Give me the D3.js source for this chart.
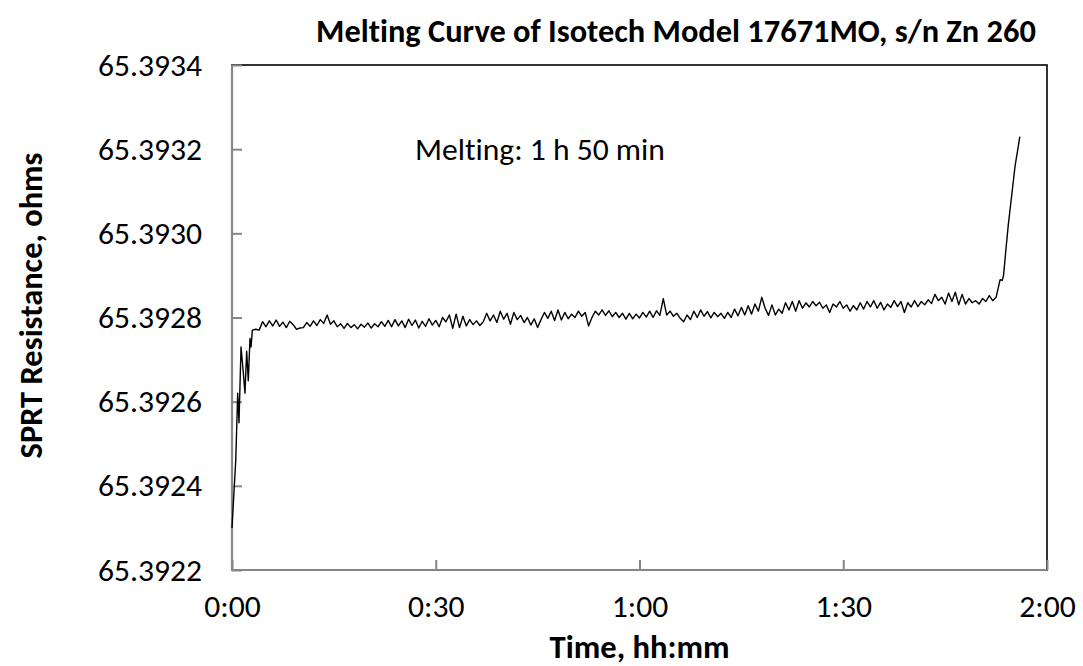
<!DOCTYPE html>
<html><head><meta charset="utf-8">
<script src="https://cdn.jsdelivr.net/npm/d3@7"></script>
<style>
html,body{margin:0;padding:0;background:#fff;}
svg{display:block;font-family:Carlito,Calibri,Lato,"Noto Sans",sans-serif;font-variant-ligatures:none;font-feature-settings:"liga" 0,"clig" 0;}
</style></head>
<body>
<svg id="c" width="1083" height="666"></svg>
<script>
// ---- data ----
const titleText = "Melting Curve of Isotech Model 17671MO, s/n Zn 260";
const xAxisTitle = "Time, hh:mm";
const yAxisTitle = "SPRT Resistance, ohms";
const annotation = "Melting: 1 h 50 min";
const xTickMinutes = [0, 30, 60, 90, 120];
const xTickLabels = ["0:00", "0:30", "1:00", "1:30", "2:00"];
const yTickValues = [65.3922, 65.3924, 65.3926, 65.3928, 65.3930, 65.3932, 65.3934];
const yTickLabels = ["65.3922", "65.3924", "65.3926", "65.3928", "65.3930", "65.3932", "65.3934"];

// elapsed time, minutes
const timeMin = [
0,0.55,0.84,1.03,1.33,1.66,1.91,2.16,2.4,2.65,2.8,3.0,3.5,4.0,
4.5,5,5.5,6,6.5,7,7.5,8,8.5,9,9.5,10,10.5,11,11.5,12,12.5,13,13.5,14,14.5,15,15.5,16,16.5,17,17.5,18,18.5,19,19.5,20,
20.5,21,21.5,22,22.5,23,23.5,24,24.5,25,25.5,26,26.5,27,27.5,28,28.5,29,29.5,30,
30.5,31,31.5,32,32.5,33,33.5,34,34.5,35,35.5,36,36.5,37,
37.5,38,38.5,39,39.5,40,40.5,41,41.5,42,42.5,43,43.5,44,44.5,45,45.5,46,
46.5,47,47.5,48,48.5,49,49.5,50,50.5,51,51.5,52,52.5,53,53.5,54,54.5,55,55.5,56,56.5,57,57.5,58,
58.5,59,59.5,60,60.5,61,61.5,62,62.5,63,63.5,64,64.5,65,65.5,66,66.5,67,67.5,68,68.5,69,69.5,70,
70.5,71,71.5,72,72.5,73,73.5,74,74.5,75,75.5,76,76.5,77,77.5,78,78.5,79,79.5,80,80.5,81,81.5,82,
82.5,83,83.5,84,84.5,85,85.5,86,86.5,87,87.5,88,88.5,89,89.5,90,90.5,91,91.5,92,92.5,93,93.5,94,
94.5,95,95.5,96,96.5,97,97.5,98,98.5,99,99.5,100,100.5,
101,101.5,102,102.5,103,103.5,104,104.5,105,105.5,106,106.5,107,107.5,108,108.5,109,109.5,110,110.5,111,111.5,112,112.5,
113.1,113.4,113.6,114.0,114.3,114.8,115.3,116.0
];
// SPRT resistance, ohms
const resistance = [
65.392300,65.392460,65.392620,65.392550,65.392730,65.392670,65.392620,65.392720,65.392650,65.392750,65.392730,65.392770,65.392772,65.392770,
65.392790,65.392778,65.392792,65.392780,65.392794,65.392779,65.392789,65.392776,65.392791,65.392783,65.392772,65.392775,65.392776,65.392788,65.392779,65.392792,65.392781,65.392795,65.392786,65.392806,65.392784,65.392792,65.392778,65.392785,65.392774,65.392786,65.392776,65.392783,65.392773,65.392784,65.392777,65.392787,
65.392775,65.392785,65.392778,65.392790,65.392779,65.392793,65.392778,65.392795,65.392780,65.392792,65.392776,65.392796,65.392781,65.392794,65.392775,65.392791,65.392779,65.392797,65.392782,65.392793,
65.392778,65.392800,65.392790,65.392806,65.392774,65.392808,65.392776,65.392803,65.392780,65.392795,65.392783,65.392792,65.392781,65.392790,
65.392810,65.392792,65.392806,65.392788,65.392815,65.392796,65.392810,65.392784,65.392812,65.392795,65.392805,65.392788,65.392800,65.392782,65.392797,65.392776,65.392795,65.392812,
65.392798,65.392815,65.392793,65.392818,65.392794,65.392812,65.392797,65.392808,65.392800,65.392815,65.392803,65.392812,65.392780,65.392800,65.392815,65.392806,65.392818,65.392805,65.392816,65.392802,65.392812,65.392800,65.392810,65.392796,
65.392810,65.392797,65.392808,65.392799,65.392812,65.392801,65.392815,65.392800,65.392816,65.392805,65.392845,65.392806,65.392815,65.392803,65.392810,65.392798,65.392790,65.392806,65.392795,65.392815,65.392800,65.392818,65.392803,65.392814,
65.392799,65.392812,65.392802,65.392810,65.392798,65.392812,65.392800,65.392820,65.392804,65.392824,65.392806,65.392828,65.392808,65.392832,65.392815,65.392848,65.392822,65.392805,65.392830,65.392806,65.392820,65.392810,65.392835,65.392818,
65.392838,65.392815,65.392840,65.392822,65.392835,65.392825,65.392838,65.392828,65.392836,65.392822,65.392830,65.392812,65.392832,65.392825,65.392838,65.392822,65.392830,65.392815,65.392828,65.392818,65.392835,65.392820,65.392838,65.392825,
65.392840,65.392822,65.392836,65.392818,65.392832,65.392824,65.392840,65.392826,65.392838,65.392812,65.392835,65.392825,65.392840,
65.392826,65.392838,65.392830,65.392842,65.392833,65.392855,65.392840,65.392848,65.392832,65.392858,65.392838,65.392860,65.392830,65.392855,65.392832,65.392845,65.392835,65.392840,65.392832,65.392845,65.392838,65.392852,65.392840,65.392848,
65.392890,65.392888,65.392900,65.392970,65.393020,65.393090,65.393160,65.393230
];

// ---- layout ----
const svg = d3.select("#c");
const L = 232, R = 1047, T = 65, B = 570;
const x = d3.scaleLinear().domain([0, 120]).range([L, R]);
const y = d3.scaleLinear().domain([65.3922, 65.3934]).range([B, T]);

function fit(sel, w) {
  const n = sel.node();
  const fs = parseFloat(sel.attr("font-size"));
  const len = n.getComputedTextLength();
  sel.attr("font-size", (fs * w / len).toFixed(2));
}

// plot area border
svg.append("rect").attr("x", L).attr("y", T).attr("width", R - L).attr("height", B - T)
  .attr("fill", "none").attr("stroke", "#000").attr("stroke-width", 1.6);

// y axis
const yAxis = d3.axisLeft(y).tickValues(yTickValues).tickFormat((d, i) => yTickLabels[i]).tickSize(-10).tickPadding(30);
const gy = svg.append("g").attr("transform", `translate(${L},0)`).call(yAxis)
  .attr("font-family", null).attr("font-size", null);
gy.select(".domain").remove();
gy.selectAll(".tick line").attr("stroke", "#868686").attr("stroke-width", 2);
gy.selectAll(".tick text").attr("font-size", 28).attr("fill", "#000");
fit(gy.select(".tick text"), 104);
const ySize = gy.select(".tick text").attr("font-size");
gy.selectAll(".tick text").attr("font-size", ySize);

// x axis
const xAxis = d3.axisBottom(x).tickValues(xTickMinutes).tickFormat((d, i) => xTickLabels[i]).tickSize(-10);
const gx = svg.append("g").attr("transform", `translate(0,${B})`).call(xAxis)
  .attr("font-family", null).attr("font-size", null);
gx.select(".domain").remove();
gx.selectAll(".tick line").attr("stroke", "#868686").attr("stroke-width", 2);
gx.selectAll(".tick text").attr("font-size", ySize).attr("fill", "#000").attr("dy", "0.35em").attr("y", 36);

// axis lines
svg.append("line").attr("x1", L).attr("x2", L).attr("y1", T).attr("y2", B + 1)
  .attr("stroke", "#868686").attr("stroke-width", 2.2);
svg.append("line").attr("x1", L - 1).attr("x2", R).attr("y1", B).attr("y2", B)
  .attr("stroke", "#868686").attr("stroke-width", 2.2);

// series
const pts = timeMin.map((t, i) => [t, resistance[i]]);
svg.append("path").datum(pts)
  .attr("d", d3.line().x(d => x(d[0])).y(d => y(d[1])))
  .attr("fill", "none").attr("stroke", "#000").attr("stroke-width", 1.4).attr("stroke-linejoin", "round");

// title
const tt = svg.append("text").attr("x", 676).attr("y", 42).attr("text-anchor", "middle")
  .attr("font-weight", "bold").attr("font-size", 24).text(titleText);
fit(tt, 720);

// annotation
const an = svg.append("text").attr("x", 415).attr("y", 160).attr("font-size", 28).text(annotation);
fit(an, 250);

// axis titles
const xt = svg.append("text").attr("x", (L + R) / 2).attr("y", 658).attr("text-anchor", "middle")
  .attr("font-weight", "bold").attr("font-size", 26).text(xAxisTitle);
fit(xt, 180);

const yt = svg.append("text").attr("transform", `translate(42,${(T + B) / 2 - 12}) rotate(-90)`)
  .attr("text-anchor", "middle").attr("font-weight", "bold").attr("font-size", 26).text(yAxisTitle);
fit(yt, 306);
</script>
</body></html>
